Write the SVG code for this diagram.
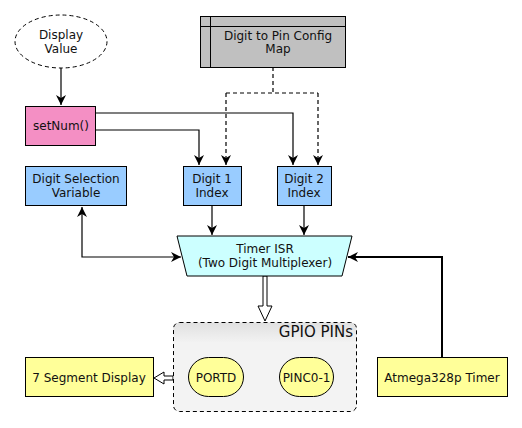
<svg xmlns="http://www.w3.org/2000/svg" width="522" height="428" viewBox="0 0 522 428">
<defs>
<marker id="ah" viewBox="0 0 10 10" refX="10" refY="5" markerWidth="10" markerHeight="10" markerUnits="userSpaceOnUse" orient="auto">
<path d="M0,0 L10,5 L0,10 L3,5 Z" fill="#000"/>
</marker>
<marker id="ahs" viewBox="0 0 10 10" refX="0" refY="5" markerWidth="10" markerHeight="10" markerUnits="userSpaceOnUse" orient="auto">
<path d="M10,0 L0,5 L10,10 L7,5 Z" fill="#000"/>
</marker>
<linearGradient id="hdr" x1="0" y1="0" x2="0" y2="1">
<stop offset="0" stop-color="#e0e0e0"/>
<stop offset="1" stop-color="#f2f2f2"/>
</linearGradient>
</defs>
<style>
text{font-family:"DejaVu Sans",Verdana,sans-serif;font-size:12px;font-weight:normal;fill:#111;text-anchor:middle}
.b{stroke:#000;stroke-width:1}
.c{fill:none;stroke:#000;stroke-width:1.2}
.d{stroke-dasharray:4,3}
.blue{fill:#99ccff}
.yel{fill:#ffff99}
</style>
<rect width="522" height="428" fill="#fff"/>
<g id="connectors">
<path class="c" d="M61,68 V105" marker-end="url(#ah)"/>
<path class="c" d="M96,130 H199 V165" marker-end="url(#ah)"/>
<path class="c" d="M96,113 H293 V165" marker-end="url(#ah)"/>
<path class="c d" d="M273,67 V93 M226,93 H318"/>
<path class="c d" d="M226,93 V165" marker-end="url(#ah)"/>
<path class="c d" d="M318,93 V165" marker-end="url(#ah)"/>
<path class="c" d="M212,206 V235" marker-end="url(#ah)"/>
<path class="c" d="M304,206 V235" marker-end="url(#ah)"/>
<path class="c" d="M82,207 V257 H181" marker-start="url(#ahs)" marker-end="url(#ah)"/>
<path fill="none" stroke="#000" stroke-width="2" d="M442,357 V257 H348" marker-end="url(#ah)"/>
<path fill="#fff" stroke="#000" stroke-width="1" d="M263,276 V306 H258 L265,321 L272,306 H267 V276 Z"/>
<path fill="#fff" stroke="#000" stroke-width="1" d="M173,376 H164 V372 L154,378 L164,384 V380 H173 Z"/>
</g>
<g id="display-value">
<ellipse cx="61" cy="41.5" rx="46" ry="26.5" fill="#fff" class="b d"/>
<text x="61" y="39">Display</text>
<text x="61" y="53">Value</text>
</g>
<g id="config-map">
<rect x="200.5" y="16.5" width="145" height="51" fill="#c0c0c0" class="b"/>
<path class="b" d="M210.5,16.5 V67.5 M200.5,26.5 H345.5"/>
<text x="278" y="40">Digit to Pin Config</text>
<text x="278" y="53">Map</text>
</g>
<g id="setnum">
<rect x="25.5" y="106.5" width="70" height="39" fill="#f48fc4" class="b"/>
<text x="61" y="130">setNum()</text>
</g>
<g id="digit-selection">
<rect x="25.5" y="166.5" width="101" height="39" class="blue b"/>
<text x="76" y="183">Digit Selection</text>
<text x="76" y="197">Variable</text>
</g>
<g id="digit1">
<rect x="183.5" y="166.5" width="58" height="39" class="blue b"/>
<text x="212" y="183">Digit 1</text>
<text x="212" y="197">Index</text>
</g>
<g id="digit2">
<rect x="277.5" y="166.5" width="54" height="39" class="blue b"/>
<text x="304" y="183">Digit 2</text>
<text x="304" y="197">Index</text>
</g>
<g id="timer-isr">
<path d="M177,236 H352 L342,276 H187 Z" fill="#ccffff" class="b"/>
<text x="265" y="253">Timer ISR</text>
<text x="265" y="267">(Two Digit Multiplexer)</text>
</g>
<g id="gpio">
<rect x="173.5" y="322.5" width="183" height="89" rx="6" fill="#f3f3f3"/>
<path d="M179.5,322.5 H350.5 A6,6 0 0 1 356.5,328.5 V342 H173.5 V328.5 A6,6 0 0 1 179.5,322.5 Z" fill="url(#hdr)"/>
<rect x="173.5" y="322.5" width="183" height="89" rx="6" fill="none" class="b d"/>
<text x="353" y="337" style="text-anchor:end;font-size:15px">GPIO PINs</text>
<g id="portd">
<rect x="188.5" y="357.5" width="55" height="39" rx="20" class="yel b"/>
<text x="216" y="382">PORTD</text>
</g>
<g id="pinc">
<rect x="279.5" y="357.5" width="54" height="39" rx="20" class="yel b"/>
<text x="306.5" y="382">PINC0-1</text>
</g>
</g>
<g id="seven-seg">
<rect x="25.5" y="357.5" width="128" height="39" class="yel b"/>
<text x="89" y="382">7 Segment Display</text>
</g>
<g id="atmega">
<rect x="377.5" y="357.5" width="130" height="39" class="yel b"/>
<text x="442" y="382">Atmega328p Timer</text>
</g>
</svg>
